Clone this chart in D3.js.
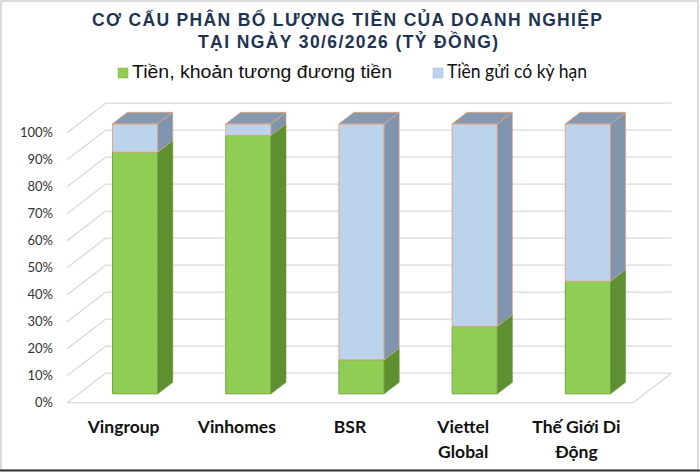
<!DOCTYPE html>
<html lang="vi">
<head>
  <meta charset="utf-8">
  <title>Cơ cấu phân bổ lượng tiền</title>
  <script src="https://cdn.jsdelivr.net/npm/d3@7"></script>
  <style>
    body { margin: 0; background: #fff; }
    .title { font-family: "Liberation Sans", Arial, sans-serif; font-weight: bold; font-size: 17.5px; fill: #1f3352; text-anchor: middle; }
    .legend text { font-size: 19px; fill: #111; }
    #yAxis path.domain, #xAxis path.domain { display: none; }
    #yAxis text { font-family: Lato, "Noto Sans", sans-serif; font-size: 13px; fill: #333; }
    #xAxis text { font-family: Lato, "Noto Sans", sans-serif; font-size: 17.5px; font-weight: bold; fill: #111; }
    .grid line { stroke: #d9d9d9; stroke-width: 1.3; }
  </style>
</head>
<body>
<script>
  // data
  const companies = ["Vingroup", "Vinhomes", "BSR", "Viettel\nGlobal", "Thế Giới Di\nĐộng"];
  const cashShare = [89.5, 95.7, 12.6, 25.0, 41.7];      // Tiền, khoản tương đương tiền (%)
  const depositShare = [10.5, 4.3, 87.4, 75.0, 58.3];    // Tiền gửi có kỳ hạn (%)
  const seriesNames = ["Tiền, khoản tương đương tiền", "Tiền gửi có kỳ hạn"];
  const yTicks = [0, 10, 20, 30, 40, 50, 60, 70, 80, 90, 100];

  // config
  const width = 700, height = 472;
  const front = { left: 67, right: 633, bottom: 402.7, top: 132.7 };
  const depth = { dx: 38.5, dy: 29.5 };
  const barZ = [0.3, 0.69];  // bar depth, fraction of floor depth

  const svg = d3.select("body").append("svg")
    .attr("width", width).attr("height", height);

  // frame
  svg.append("rect").attr("x", 1).attr("y", 1).attr("width", width - 3).attr("height", height - 3)
    .attr("fill", "none").attr("stroke", "#cfcfcf").attr("stroke-width", 1.5);
  svg.append("line").attr("x1", 0).attr("x2", width).attr("y1", height - 1.5).attr("y2", height - 1.5)
    .attr("stroke", "#333").attr("stroke-width", 2);

  // scales
  const x = d3.scaleBand().domain(companies).range([front.left, front.right]).paddingInner(0.6).paddingOuter(0.3);
  const y = d3.scaleLinear().domain([0, 100]).range([front.bottom, front.top]);
  const project = (px, v, z) => [px + z * depth.dx, y(v) - z * depth.dy];

  // title
  svg.append("text").attr("class", "title").attr("x", 347).attr("y", 26)
    .attr("textLength", 510).attr("lengthAdjust", "spacing")
    .text("CƠ CẤU PHÂN BỔ LƯỢNG TIỀN CỦA DOANH NGHIỆP");
  svg.append("text").attr("class", "title").attr("x", 348).attr("y", 48)
    .attr("textLength", 300).attr("lengthAdjust", "spacing")
    .text("TẠI NGÀY 30/6/2026 (TỶ ĐỒNG)");

  // legend
  const legend = svg.append("g").attr("class", "legend");
  const legendItems = [
    { name: seriesNames[0], color: "#8fcd55", x: 118, len: 260, font: "'Liberation Sans', Arial, sans-serif" },
    { name: seriesNames[1], color: "#bcd3ec", x: 433, len: 140, font: "Lato, 'Noto Sans', sans-serif" }
  ];
  legendItems.forEach(d => {
    legend.append("rect").attr("x", d.x).attr("y", 68).attr("width", 10).attr("height", 10)
      .attr("fill", d.color).attr("stroke", d3.color(d.color).darker(0.4)).attr("stroke-width", 0.5);
    legend.append("text").attr("x", d.x + 14).attr("y", 78)
      .style("font-family", d.font)
      .attr("textLength", d.len).attr("lengthAdjust", "spacingAndGlyphs").text(d.name);
  });

  // gridlines: back wall + left side wall
  const grid = svg.append("g").attr("class", "grid");
  yTicks.forEach(t => {
    const a = project(front.left, t, 0), b = project(front.left, t, 1), c = project(front.right, t, 1);
    grid.append("line").attr("x1", a[0]).attr("y1", a[1]).attr("x2", b[0]).attr("y2", b[1]);
    grid.append("line").attr("x1", b[0]).attr("y1", b[1]).attr("x2", c[0]).attr("y2", c[1]);
  });
  // floor
  const f0 = project(front.left, 0, 0), f1 = project(front.right, 0, 0), f2 = project(front.right, 0, 1);
  grid.append("line").attr("x1", f0[0]).attr("y1", f0[1]).attr("x2", f1[0]).attr("y2", f1[1]);
  grid.append("line").attr("x1", f1[0]).attr("y1", f1[1]).attr("x2", f2[0]).attr("y2", f2[1]);

  // y axis labels
  svg.append("g").attr("id", "yAxis")
    .attr("transform", `translate(55,0)`)
    .call(d3.axisLeft(y).tickValues(yTicks).tickSize(0).tickPadding(2).tickFormat(d => d + "%"));

  // x axis labels (multi-line)
  const xAxis = svg.append("g").attr("id", "xAxis")
    .attr("transform", `translate(0,${front.bottom + 30.5})`)
    .call(d3.axisBottom(x).tickSize(0).tickFormat(""));
  xAxis.selectAll("g.tick").each(function (d) {
    const t = d3.select(this).select("text").text(null).attr("y", 0).attr("dy", 0);
    d.split("\n").forEach((line, i) => {
      t.append("tspan").attr("x", 0).attr("y", i * 25).text(line);
    });
  });

  // 3D bars
  const styles = [
    { front: "#8fcd55", side: "#5e8f30", top: "#7fb447", edge: "#6e9e3e" },
    { front: "#bcd3ec", side: "#8095ad", top: "#8498b0", edge: "#e0a27c" }
  ];
  const poly = pts => pts.map(p => p.join(",")).join(" ");
  const bars = svg.append("g").attr("id", "bars");

  companies.forEach((c, i) => {
    const x0 = x(c), x1 = x(c) + x.bandwidth();
    const segs = [[0, cashShare[i]], [cashShare[i], cashShare[i] + depositShare[i]]];
    segs.forEach(([v0, v1], s) => {
      const st = styles[s];
      const g = bars.append("g");
      g.append("polygon")
        .attr("points", poly([project(x0, v0, barZ[0]), project(x1, v0, barZ[0]), project(x1, v1, barZ[0]), project(x0, v1, barZ[0])]))
        .attr("fill", st.front).attr("stroke", st.edge).attr("stroke-width", 0.9);
      g.append("polygon")
        .attr("points", poly([project(x1, v0, barZ[0]), project(x1, v0, barZ[1]), project(x1, v1, barZ[1]), project(x1, v1, barZ[0])]))
        .attr("fill", st.side).attr("stroke", st.edge).attr("stroke-width", 0.6);
      if (s === segs.length - 1) {
        g.append("polygon")
          .attr("points", poly([project(x0, v1, barZ[0]), project(x1, v1, barZ[0]), project(x1, v1, barZ[1]), project(x0, v1, barZ[1])]))
          .attr("fill", st.top).attr("stroke", st.edge).attr("stroke-width", 0.9);
      }
    });
  });
</script>
</body>
</html>
